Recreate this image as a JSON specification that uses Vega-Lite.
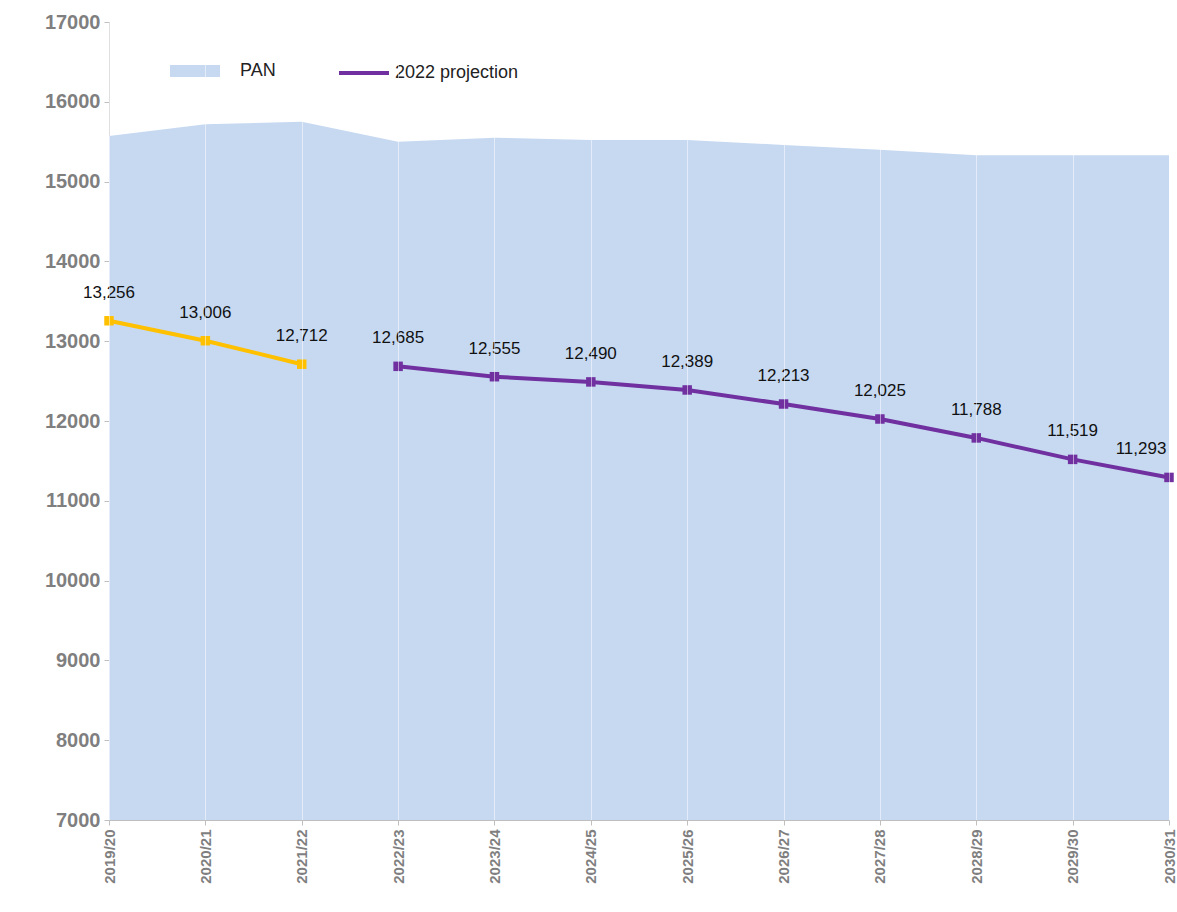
{
"$schema":"https://vega.github.io/schema/vega-lite/v6.json",
"width":1060,"height":798,
"padding":{"left":44,"top":12,"right":8,"bottom":5},
"autosize":{"type":"pad"},
"config":{"view":{"stroke":null},"font":"Arial"},
"datasets":{
"pan":[{"yr":"2019/20","v":15570,"s":"PAN"},{"yr":"2020/21","v":15720,"s":"PAN"},{"yr":"2021/22","v":15750,"s":"PAN"},{"yr":"2022/23","v":15500,"s":"PAN"},{"yr":"2023/24","v":15550,"s":"PAN"},{"yr":"2024/25","v":15520,"s":"PAN"},{"yr":"2025/26","v":15520,"s":"PAN"},{"yr":"2026/27","v":15460,"s":"PAN"},{"yr":"2027/28","v":15400,"s":"PAN"},{"yr":"2028/29","v":15330,"s":"PAN"},{"yr":"2029/30","v":15330,"s":"PAN"},{"yr":"2030/31","v":15330,"s":"PAN"}],
"ln":[{"yr":"2019/20","v":13256,"s":"Actual","lab":"13,256"},{"yr":"2020/21","v":13006,"s":"Actual","lab":"13,006"},{"yr":"2021/22","v":12712,"s":"Actual","lab":"12,712"},
{"yr":"2022/23","v":12685,"s":"2022 projection","lab":"12,685"},{"yr":"2023/24","v":12555,"s":"2022 projection","lab":"12,555"},{"yr":"2024/25","v":12490,"s":"2022 projection","lab":"12,490"},{"yr":"2025/26","v":12389,"s":"2022 projection","lab":"12,389"},{"yr":"2026/27","v":12213,"s":"2022 projection","lab":"12,213"},{"yr":"2027/28","v":12025,"s":"2022 projection","lab":"12,025"},{"yr":"2028/29","v":11788,"s":"2022 projection","lab":"11,788"},{"yr":"2029/30","v":11519,"s":"2022 projection","lab":"11,519"},{"yr":"2030/31","v":11293,"s":"2022 projection","lab":"11,293"}]},
"encoding":{
"x":{"field":"yr","type":"ordinal","scale":{"type":"point","padding":0},"sort":null,"title":null,
"axis":{"labelAngle":-90,"labelFontSize":15,"labelFontWeight":"bold","labelColor":"#7f7f7f","domainColor":"#bfbfbf","tickColor":"#bfbfbf","grid":true,"gridColor":"#ffffff","gridOpacity":0.5,"labelPadding":4,"labelOverlap":false,"zindex":1}},
"y":{"field":"v","type":"quantitative","scale":{"domain":[7000,17000]},"title":null,
"axis":{"values":[7000,8000,9000,10000,11000,12000,13000,14000,15000,16000,17000],"format":"d","labelFontSize":20,"labelFontWeight":"bold","labelColor":"#7f7f7f","domainColor":"#bfbfbf","tickColor":"#bfbfbf","grid":false,"labelPadding":4,"labelOverlap":false}}},
"layer":[
{"data":{"name":"pan"},"mark":{"type":"area","opacity":1},
"encoding":{"y2":{"datum":7000},"fill":{"field":"s","type":"nominal","scale":{"range":["#c6d9f1"]},"legend":{"orient":"none","legendX":75,"legendY":38,"title":null,"labelFontSize":18,"labelColor":"#222","symbolType":"M-2.5,-0.6H2.5V0.6H-2.5Z","symbolSize":400,"symbolOpacity":1,"labelOffset":34}}}},
{"data":{"name":"ln"},"mark":{"type":"line","strokeWidth":4,"point":{"shape":"square","size":90,"filled":true}},
"encoding":{"color":{"field":"s","type":"nominal","scale":{"domain":["2022 projection","Actual"],"range":["#7030a0","#ffc000"]},"legend":{"values":["2022 projection"],"orient":"none","legendX":228,"legendY":24,"title":null,"labelFontSize":18,"labelColor":"#222","symbolType":"stroke","symbolStrokeWidth":4,"symbolSize":2500,"labelOffset":4}}}},
{"data":{"name":"ln"},"transform":[{"filter":"datum.yr!='2030/31'"}],"mark":{"type":"text","dy":-28,"fontSize":17,"color":"#111"},"encoding":{"text":{"field":"lab"}}},
{"data":{"name":"ln"},"transform":[{"filter":"datum.yr=='2030/31'"}],"mark":{"type":"text","dy":-28,"dx":-28,"fontSize":17,"color":"#111"},"encoding":{"text":{"field":"lab"}}}
]}
